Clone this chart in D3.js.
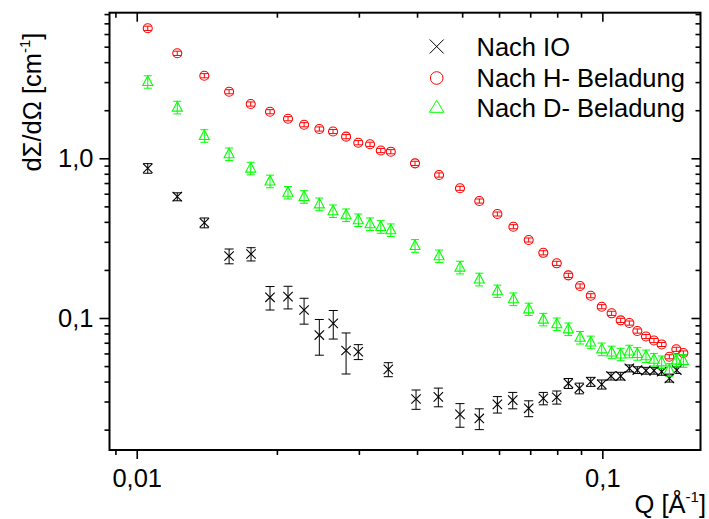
<!DOCTYPE html>
<html><head><meta charset="utf-8">
<script src="https://cdn.jsdelivr.net/npm/d3@7"></script>
<style>
body{margin:0;background:#fff}
svg{display:block}
text{font-family:"Liberation Sans",Arial,sans-serif;fill:#000}
</style>
</head><body>
<svg id="c" width="709" height="519"></svg>
<script>
// ---- data ----
const seriesNames = ["Nach IO", "Nach H- Beladung", "Nach D- Beladung"];
const seriesColors = ["#000000", "#ff0000", "#00ff00"];

const qIO = [0.01056,0.01222,0.01397,0.01579,0.01760,0.01933,0.02113,0.02288,0.02467,0.02643,0.02816,0.02991,
  0.03470,0.03980,0.04444,0.04946,0.05442,0.05951,0.06421,0.06948,0.07469,0.07982,0.08453,0.08925,0.09443,
  0.0997,0.1044,0.1095,0.1143,0.1189,0.1241,0.1291,0.1341,0.1393,0.1445];
const valIO = [0.866,0.575,0.395,0.2444,0.2516,0.1348,0.136,0.1122,0.0782,0.0926,0.0626,0.0615,
  0.0477,0.0311,0.0321,0.0249,0.0235,0.0288,0.0306,0.0272,0.0314,0.0319,0.0390,0.0363,0.0399,
  0.0384,0.0433,0.0433,0.0484,0.0472,0.0468,0.0468,0.0461,0.0419,0.0472];
const errIO = [0.06,0.033,0.028,0.026,0.024,0.0226,0.022,0.0207,0.0197,0.0188,0.018,0.0066,
  0.0048,0.0043,0.0043,0.0042,0.0035,0.0034,0.0036,0.0031,0.0028,0.003,0.0028,0.0028,0.0026,
  0.0025,0.0024,0.0024,0.0024,0.0023,0.0023,0.0023,0.0023,0.0022,0.0022];

const qHD = [0.01056,0.01222,0.01397,0.01579,0.01757,0.01933,0.02113,0.02288,0.02467,0.02640,0.02816,0.02991,
  0.03170,0.03343,0.03513,0.03960,0.04460,0.04946,0.05442,0.05951,0.06441,0.06948,0.07469,0.07982,0.08453,
  0.08958,0.09443,0.0997,0.1047,0.1095,0.1143,0.1189,0.1241,0.1291,0.1341,0.1393,0.1442,0.1493];
const valH = [6.52,4.545,3.29,2.612,2.188,1.958,1.770,1.623,1.526,1.472,1.366,1.252,1.224,1.119,1.100,
  0.930,0.786,0.649,0.540,0.448,0.373,0.308,0.256,0.220,0.185,
  0.1586,0.1379,0.1177,0.1070,0.0967,0.0930,0.0829,0.0766,0.0723,0.0683,0.0572,0.0637,0.0604];
const errH = [0.20,0.14,0.10,0.078,0.066,0.059,0.053,0.049,0.046,0.044,0.041,0.038,0.037,0.034,0.033,
  0.028,0.024,0.019,0.016,0.013,0.011,0.009,0.0077,0.0066,0.0056,
  0.0048,0.0041,0.0035,0.0032,0.0029,0.0028,0.0025,0.0023,0.0022,0.002,0.0017,0.0019,0.0018];
const valD = [3.017,2.086,1.385,1.064,0.866,0.719,0.611,0.575,0.517,0.468,0.4415,0.411,0.388,0.373,0.356,
  0.2836,0.2444,0.2077,0.1748,0.1476,0.1315,0.1138,0.0981,0.0917,0.0853,
  0.0755,0.0706,0.0639,0.0611,0.0593,0.0619,0.0598,0.0578,0.0550,0.0530,0.0475,0.0543,0.0540];
const errD = [0.27,0.19,0.125,0.096,0.078,0.065,0.055,0.052,0.047,0.042,0.040,0.037,0.035,0.034,0.032,
  0.026,0.022,0.019,0.016,0.013,0.012,0.010,0.0088,0.0083,0.0077,
  0.0068,0.0064,0.0058,0.0055,0.0053,0.0056,0.0054,0.0052,0.005,0.0048,0.0043,0.0049,0.0049];

const xMajorTicks = [0.01, 0.1];
const xTickLabels = ["0,01", "0,1"];
const xMinorTicks = [0.009,0.02,0.03,0.04,0.05,0.06,0.07,0.08,0.09];
const yMajorTicks = [0.1, 1];
const yTickLabels = ["0,1", "1,0"];
const yMinorTicks = [0.02,0.03,0.04,0.05,0.06,0.07,0.08,0.09,0.2,0.3,0.4,0.5,0.6,0.7,0.8,0.9,2,3,4,5,6,7,8];

// ---- layout ----
const L = 109.5, R = 700.5, T = 12.7, B = 450;
const FS = 25.5;
const svg = d3.select("#c");
const x = d3.scaleLog().domain([0.00874, 0.1625]).range([L, R]);
const y = d3.scaleLog().domain([0.01491, 8.16]).range([B, T]);

function styleAxis(g){ g.select(".domain").remove(); g.selectAll("line").attr("stroke","#000").attr("stroke-width",1.6); g.selectAll("text").style("font-size",FS+"px").attr("fill","#000"); }

// bottom (outward)
svg.append("g").attr("transform",`translate(0,${B})`).call(d3.axisBottom(x).tickValues(xMinorTicks).tickSize(5).tickFormat("")).call(styleAxis);
svg.append("g").attr("transform",`translate(0,${B})`).call(d3.axisBottom(x).tickValues(xMajorTicks).tickSize(9).tickPadding(10).tickFormat((d,i)=>xTickLabels[i])).call(styleAxis);
// top (ticks pointing down, inward)
svg.append("g").attr("transform",`translate(0,${T})`).call(d3.axisBottom(x).tickValues(xMinorTicks).tickSize(5).tickFormat("")).call(styleAxis);
svg.append("g").attr("transform",`translate(0,${T})`).call(d3.axisBottom(x).tickValues(xMajorTicks).tickSize(9).tickFormat("")).call(styleAxis);
// left (outward)
svg.append("g").attr("transform",`translate(${L},0)`).call(d3.axisLeft(y).tickValues(yMinorTicks).tickSize(5).tickFormat("")).call(styleAxis);
svg.append("g").attr("transform",`translate(${L},0)`).call(d3.axisLeft(y).tickValues(yMajorTicks).tickSize(10).tickPadding(6).tickFormat((d,i)=>yTickLabels[i])).call(styleAxis);
// right (ticks pointing left, inward)
svg.append("g").attr("transform",`translate(${R},0)`).call(d3.axisLeft(y).tickValues(yMinorTicks).tickSize(5).tickFormat("")).call(styleAxis);
svg.append("g").attr("transform",`translate(${R},0)`).call(d3.axisLeft(y).tickValues(yMajorTicks).tickSize(9).tickFormat("")).call(styleAxis);

// frame
svg.append("rect").attr("x",L).attr("y",T).attr("width",R-L).attr("height",B-T)
  .attr("fill","none").attr("stroke","#000").attr("stroke-width",2);

// ---- data marks ----
function errBars(g, q, v, e, color, cap){
  const gg = g.append("g").attr("stroke",color).attr("stroke-width",1).attr("fill","none");
  q.forEach((qq,i)=>{
    const cx = x(qq), y1 = y(v[i]+e[i]), y0 = y(Math.max(v[i]-e[i],1e-4));
    gg.append("line").attr("x1",cx).attr("x2",cx).attr("y1",y1).attr("y2",y0);
    gg.append("line").attr("x1",cx-cap).attr("x2",cx+cap).attr("y1",y1).attr("y2",y1);
    gg.append("line").attr("x1",cx-cap).attr("x2",cx+cap).attr("y1",y0).attr("y2",y0);
  });
}
function crossPath(cx,cy,s){ return `M${cx-s},${cy-s}L${cx+s},${cy+s}M${cx-s},${cy+s}L${cx+s},${cy-s}`; }
function triPath(cx,cy,w,h){ return `M${cx},${cy-h*0.6}L${cx+w/2},${cy+h*0.4}L${cx-w/2},${cy+h*0.4}Z`; }

const plot = svg.append("g");
// IO (black crosses)
errBars(plot, qIO, valIO, errIO, seriesColors[0], 4.5);
plot.append("g").selectAll("path").data(qIO).join("path")
  .attr("d",(d,i)=>crossPath(x(d),y(valIO[i]),4.7))
  .attr("stroke",seriesColors[0]).attr("stroke-width",1.1).attr("fill","none");
// H (red circles)
errBars(plot, qHD, valH, errH, seriesColors[1], 4);
plot.append("g").selectAll("circle").data(qHD).join("circle")
  .attr("cx",d=>x(d)).attr("cy",(d,i)=>y(valH[i])).attr("r",4.5)
  .attr("stroke",seriesColors[1]).attr("stroke-width",1.1).attr("fill","none");
// D (green triangles)
errBars(plot, qHD, valD, errD, seriesColors[2], 4);
plot.append("g").selectAll("path").data(qHD).join("path")
  .attr("d",(d,i)=>triPath(x(d),y(valD[i]),10,9.5))
  .attr("stroke",seriesColors[2]).attr("stroke-width",1.1).attr("fill","none");

// ---- legend ----
const lx = 436.7, ltx = 476.5;
const lrows = [46.5, 78, 107.5];
const lg = svg.append("g");
lg.append("path").attr("d",crossPath(lx,lrows[0],7)).attr("stroke",seriesColors[0]).attr("stroke-width",1).attr("fill","none");
lg.append("circle").attr("cx",lx).attr("cy",lrows[1]).attr("r",6.3).attr("stroke",seriesColors[1]).attr("stroke-width",1).attr("fill","none");
lg.append("path").attr("d",triPath(lx,lrows[2],14.5,12)).attr("stroke",seriesColors[2]).attr("stroke-width",1).attr("fill","none");
seriesNames.forEach((n,i)=>{
  lg.append("text").attr("x",ltx).attr("y",lrows[i]+9).style("font-size",FS+"px").text(n);
});

// ---- axis titles ----
const xt = svg.append("text").attr("x",706).attr("y",513).attr("text-anchor","end").style("font-size",FS+"px");
xt.append("tspan").text("Q [Å");
xt.append("tspan").attr("dy",-11).style("font-size","15px").text("-1");
xt.append("tspan").attr("dy",11).text("]");

const yt = svg.append("text").attr("transform","translate(41,102) rotate(-90)").attr("text-anchor","middle").style("font-size",FS+"px");
yt.append("tspan").text("dΣ/dΩ [cm");
yt.append("tspan").attr("dy",-11).style("font-size","15px").text("-1");
yt.append("tspan").attr("dy",11).text("]");
</script>
</body></html>
